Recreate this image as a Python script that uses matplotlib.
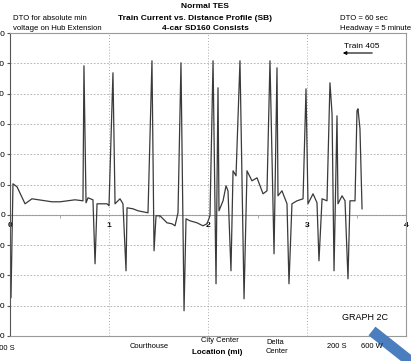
import matplotlib
matplotlib.use('Agg')
import matplotlib.pyplot as plt
from matplotlib.lines import Line2D

# Distance along the line (mi) and train current (A).
miles = [0.000, 0.010, 0.030, 0.071, 0.152, 0.222, 0.424, 0.505, 0.657, 0.737,
         0.747, 0.768, 0.788, 0.838, 0.859, 0.879, 0.980, 1.000, 1.040, 1.061,
         1.111, 1.141, 1.172, 1.182, 1.242, 1.293, 1.394, 1.434, 1.455, 1.475,
         1.515, 1.586, 1.636, 1.667, 1.697, 1.727, 1.758, 1.778, 1.818, 1.889,
         1.949, 1.990, 2.020, 2.051, 2.081, 2.101, 2.111, 2.152, 2.182, 2.202,
         2.232, 2.253, 2.283, 2.323, 2.364, 2.394, 2.444, 2.495, 2.556, 2.596,
         2.626, 2.667, 2.697, 2.707, 2.747, 2.798, 2.818, 2.848, 2.899, 2.960,
         2.990, 3.010, 3.061, 3.101, 3.121, 3.152, 3.202, 3.232, 3.253, 3.273,
         3.303, 3.313, 3.354, 3.384, 3.414, 3.434, 3.485, 3.505, 3.515, 3.535,
         3.556]
current = [-363, -2739, 1023, 924, 363, 528, 429, 429, 495, 462,
           4917, 396, 561, 495, -1617, 363, 363, 297, 4686, 363,
           528, 363, -1848, 231, 198, 132, 66, 5083, -1188, -33,
           -33, -264, -297, -363, 66, 5017, -3168, -132, -198, -264,
           -363, -297, -33, 5083, -2277, 4191, 132, 462, 957, 792,
           -1848, 1452, 1287, 5083, -2772, 1452, 1122, 1221, 693, 792,
           5083, -1287, 4851, 627, 792, 363, -2277, 363, 462, 528,
           4158, 363, 693, 396, -1518, 528, 462, 4356, 3333, -1848,
           3267, 363, 627, 462, -2112, 462, 462, 3432, 3498, 2838,
           198]

y_ticks = list(range(-4000, 6001, 1000))
x_ticks = [0, 1, 2, 3, 4]

# Station names along the bottom
stations = ['900 S', 'Courthouse', 'City Center', 'Delta\nCenter', '200 S', '600 W']
station_x = [15, 149, 220, 266, 327, 361]
station_y = [348, 346, 341, 347, 346, 346]
station_ha = ['right', 'center', 'center', 'left', 'left', 'left']

W, H = 411, 361
fig = plt.figure(figsize=(W / 100, H / 100), dpi=100)
plt.rcParams['font.family'] = 'Liberation Sans'
ax = fig.add_axes([10 / W, 1 - 336 / H, 396 / W, 303 / H])

ax.plot(miles, current, color='#3a3a3a', linewidth=0.9)

ax.set_xlim(0, 4)
ax.set_ylim(-4000, 6000)
ax.set_yticks(y_ticks)
ax.set_yticklabels([str(v) for v in y_ticks], fontsize=6)
ax.tick_params(axis='y', length=2, pad=1.5, color='#555555')
ax.set_xticks([1, 2, 3])
ax.tick_params(axis='x', length=0, labelbottom=False)

#Dotted grid.
ax.grid(True, axis='y', color='#aaaaaa', linestyle=(0, (2, 2)), linewidth=0.6)
ax.grid(True, axis='x', color='#aaaaaa', linestyle=(0, (1, 2)), linewidth=0.7)

for side in ['top', 'right', 'bottom']:
    ax.spines[side].set_color('#999999')
    ax.spines[side].set_linewidth(0.8)
ax.spines['left'].set_color('#555555')

#Zero line carries the mile labels.
sec = ax.secondary_xaxis(0.4)
sec.set_xticks(x_ticks)
sec.set_xticks([0.5, 1.5, 2.5, 3.5], minor=True)
sec.set_xticklabels([str(v) for v in x_ticks], fontsize=6, fontweight='bold')
sec.tick_params(axis='x', which='major', length=0, pad=5)
sec.tick_params(axis='x', which='minor', length=2, color='#999999')
sec.spines['bottom'].set_color('#999999')
sec.spines['bottom'].set_linewidth(0.8)

def fx(px):
    return px / W

def fy(py):
    return 1 - py / H

#Titles and notes.
fig.text(fx(205), fy(7), 'Normal TES', ha='center', va='center', fontsize=6, fontweight='bold')
fig.text(fx(195), fy(18), 'Train Current vs. Distance Profile (SB)', ha='center', va='center',
         fontsize=6, fontweight='bold')
fig.text(fx(205), fy(28), '4-car SD160 Consists', ha='center', va='center', fontsize=6, fontweight='bold')
fig.text(fx(13), fy(19), 'DTO for absolute min', ha='left', va='center', fontsize=5.6)
fig.text(fx(13), fy(29), 'voltage on Hub Extension', ha='left', va='center', fontsize=5.6)
fig.text(fx(340), fy(19), 'DTO = 60 sec', ha='left', va='center', fontsize=5.6)
fig.text(fx(340), fy(28), 'Headway = 5 minutes', ha='left', va='center', fontsize=5.6)

fig.text(fx(344), fy(46), 'Train 405', ha='left', va='center', fontsize=6)
ax.annotate('', xy=(fx(340), fy(53)), xytext=(fx(375), fy(53)),
            xycoords='figure fraction', textcoords='figure fraction',
            arrowprops=dict(arrowstyle='-|>', color='black', lw=0.8, mutation_scale=5))

fig.text(fx(342), fy(317), 'GRAPH 2C', ha='left', va='center', fontsize=6.5)

for name, sx, sy, ha in zip(stations, station_x, station_y, station_ha):
    fig.text(fx(sx), fy(sy), name, ha=ha, va='center', fontsize=5.4, linespacing=1.4)
fig.text(fx(217), fy(352), 'Location (mi)', ha='center', va='center', fontsize=5.8, fontweight='bold')

#Blue pen stroke at the lower right.
fig.add_artist(Line2D([fx(372), fx(420)], [fy(331), fy(369)], color='#4a7ebf',
                      linewidth=8, solid_capstyle='butt', transform=fig.transFigure))

fig.savefig('out.png', dpi=100)
